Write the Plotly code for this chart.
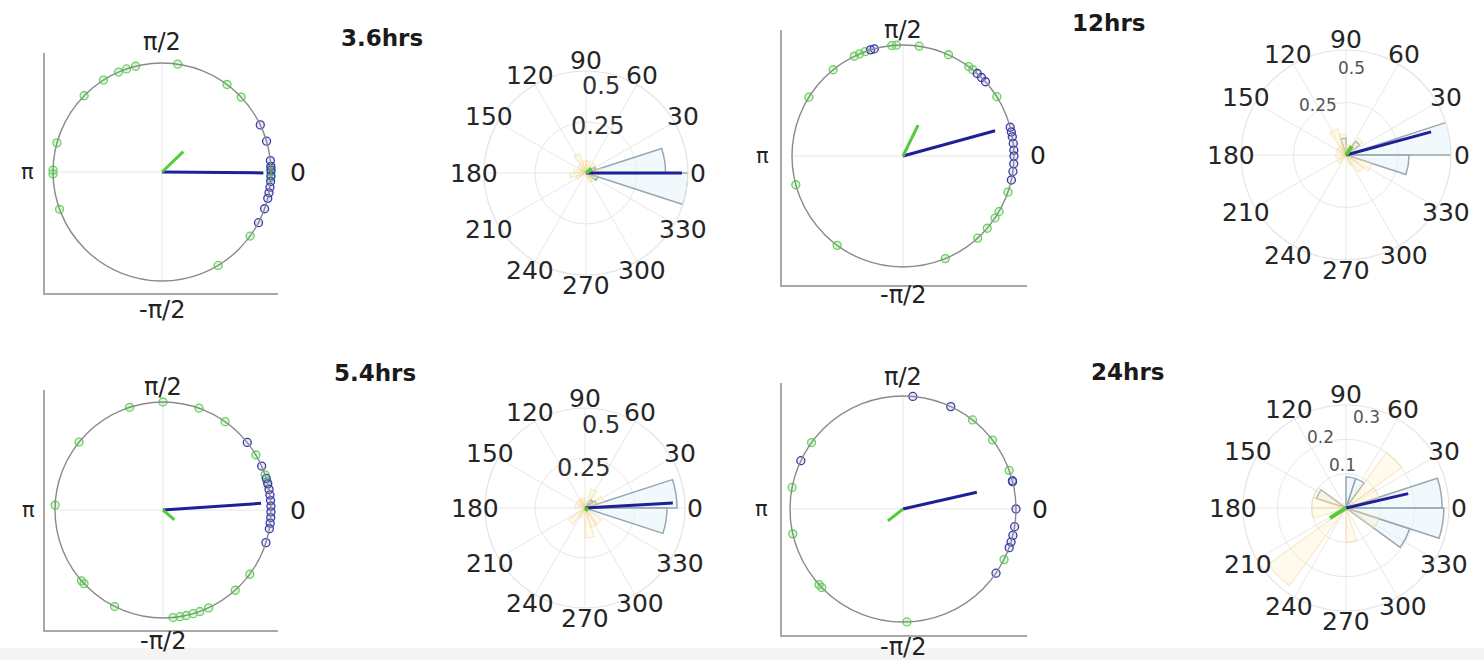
import numpy as np
import plotly.graph_objects as go

W, H = 1484, 660

# ---------------- data ----------------
titles = ["3.6hrs", "12hrs", "5.4hrs", "24hrs"]

# phase angles (degrees) of points on the unit circle
blue_36 = [25.6, 16.4, 6, 3, 1, -2, -5, -8, -11, -14, -19.7, -27.7]
green_36 = [81.7, 104, 109, 113.5, 122.5, 135.6, 164.5, 179, 181, 200, -36, -59,
            43.4, 53.4, 2, 0, -3]
blue_12 = [107, 105, 48, 45, 42, 15, 12.5, 10, 6.5, 3, 0, -4, -8, -12.5]
green_12 = [95.8, 93.4, 81.6, 113, 110, 116, 65.8, 53.7, 51, 32.3, 129, 148, 195,
            -19, -30, -34, -40.6, -47.7, -67.6, 233.6]
blue_54 = [38.7, 24, 17, 14, 11, 8, 5, 2, -1, -4, -7, -10, -17.6]
green_54 = [90, 108, 70.5, 54.9, 141, 177.4, 221, 223, 243.4, -84.7, -81, -77.6,
            -73.8, -70, -65, -48, -36.5, 30.6, 19, 15]
blue_24 = [85, 65, 154.7, 14, 14.5, 0, -9, -13.5, -17, -20, -34.6]
green_24 = [52, 37.6, 20, 144, 169, 192.7, 224, 222, -88, -26.6]

# mean resultant vectors (length, angle deg)
vec_blue = [(0.93, -0.5), (0.86, 15.3), (0.91, 3.9), (0.67, 12.8)]
vec_green = [(0.27, 43.6), (0.31, 64.0), (0.14, -40.6), (0.17, 218.0)]

# rose histograms: 20 bins of 18 degrees
bin_centers = list(range(9, 360, 18))
rose_blue_36 = [0.39, 0.05, 0, 0, 0, 0, 0, 0, 0, 0, 0, 0, 0, 0, 0, 0, 0, 0, 0.06, 0.50]
rose_yel_36 = [0.08, 0.02, 0.06, 0.03, 0.06, 0.06, 0.10, 0.05, 0.03, 0.06, 0.08, 0.05,
               0, 0, 0, 0, 0.05, 0.05, 0.03, 0.06]
rose_blue_12 = [0.51, 0, 0.08, 0, 0, 0.08, 0, 0, 0, 0, 0, 0, 0, 0, 0, 0, 0, 0, 0, 0.30]
rose_yel_12 = [0, 0.05, 0.10, 0.05, 0.05, 0.10, 0.13, 0.05, 0.05, 0, 0.05, 0, 0.05,
               0, 0, 0, 0.05, 0.10, 0.13, 0]
rose_blue_54 = [0.46, 0.06, 0.05, 0, 0, 0, 0, 0, 0, 0, 0, 0, 0, 0, 0, 0, 0, 0, 0, 0.41]
rose_yel_54 = [0.05, 0.10, 0, 0.10, 0, 0.05, 0.05, 0.05, 0, 0.05, 0, 0, 0.10, 0.05,
               0, 0.15, 0.10, 0.10, 0, 0]
rose_blue_24 = [0.28, 0, 0, 0.09, 0.09, 0, 0, 0, 0.09, 0, 0, 0, 0, 0, 0, 0, 0, 0,
                0.195, 0.285]
rose_yel_24 = [0, 0.10, 0.20, 0, 0, 0, 0, 0, 0.10, 0.10, 0.10, 0, 0.28, 0, 0, 0.10,
               0, 0, 0.10, 0]

rose_vec_blue = [(0.47, 0.0), (0.42, 15.2), (0.44, 3.2), (0.186, 13.0)]
rose_vec_green = [(0.035, 37.0), (0.05, 56.0), (0.02, -40.0), (0.055, 212.0)]

rmax_list = [0.5, 0.5, 0.5, 0.3]
rticks_list = [[0.25, 0.5], [0.25, 0.5], [0.25, 0.5], [0.1, 0.2, 0.3]]
rtick_text = [["0.25", "0.5"], ["0.25", "0.5"], ["0.25", "0.5"], ["0.1", "0.2", "0.3"]]
angle_ticks = list(range(0, 360, 30))

# ---------------- layout geometry (pixels) ----------------
left_geo = [
    dict(box=(45, 53, 278, 293), c=(162, 172), r=109, lab=(1.19, -1.27, -1.23, 1.25)),
    dict(box=(782, 30, 1027, 285), c=(903, 156), r=111, lab=(1.135, -1.25, -1.27, 1.22)),
    dict(box=(45, 390, 278, 630), c=(163, 510), r=108, lab=(1.14, -1.21, -1.25, 1.25)),
    dict(box=(782, 383, 1027, 635), c=(903, 509), r=113, lab=(1.17, -1.22, -1.25, 1.21)),
]
polar_geo = [
    dict(c=(586, 173), R=102, rlab=[(11, -47), (15, -87)], rfs=24),
    dict(c=(1346, 155), R=105, rlab=[(-28, -50), (5, -87)], rfs=17),
    dict(c=(585, 508), R=100, rlab=[(-2, -40), (16, -83)], rfs=24),
    dict(c=(1346, 508), R=103, rlab=[(-4, -43), (-26, -71), (20, -91)], rfs=17),
]
title_pos = [(382, 38), (1108, 23), (375, 373), (1127, 372)]

blues = [blue_36, blue_12, blue_54, blue_24]
greens = [green_36, green_12, green_54, green_24]
rose_blues = [rose_blue_36, rose_blue_12, rose_blue_54, rose_blue_24]
rose_yels = [rose_yel_36, rose_yel_12, rose_yel_54, rose_yel_24]

FONT = "DejaVu Sans"
BLUE_MK = "#3a3ab0"
GREEN_MK = "#62d65c"
BLUE_VEC = "#1f1f96"
GREEN_VEC = "#52cc3c"


def px(x):
    return x / W


def py(y):
    return 1 - y / H


fig = go.Figure()
layout = dict(width=W, height=H, margin=dict(l=0, r=0, t=0, b=0),
              paper_bgcolor="white", plot_bgcolor="white", showlegend=False)
annotations = []
shapes = [dict(type="rect", xref="paper", yref="paper", x0=0, x1=1, y0=0,
               y1=12 / H, fillcolor="#f4f4f4", line=dict(width=0), layer="below")]

# ---------------- left circular scatter panels ----------------
for i in range(4):
    n = i + 1
    xa = "x" if n == 1 else f"x{n}"
    ya = "y" if n == 1 else f"y{n}"
    g = left_geo[i]
    L, T, R_, B = g["box"]
    cx, cy = g["c"]
    r = g["r"]
    xr = [(L - cx) / r, (R_ - cx) / r]
    yr = [-(B - cy) / r, (cy - T) / r]
    layout["xaxis" if n == 1 else f"xaxis{n}"] = dict(
        domain=[px(L), px(R_)], range=xr, anchor=ya, showline=True,
        linecolor="#a8a8a8", linewidth=2, showgrid=False, zeroline=False,
        showticklabels=False, ticks="", fixedrange=True)
    layout["yaxis" if n == 1 else f"yaxis{n}"] = dict(
        domain=[py(B), py(T)], range=yr, anchor=xa, showline=True,
        linecolor="#a8a8a8", linewidth=2, showgrid=False, zeroline=False,
        showticklabels=False, ticks="", fixedrange=True)

    # cross gridlines
    fig.add_trace(go.Scatter(x=[-1, 1], y=[0, 0], mode="lines", xaxis=xa, yaxis=ya,
                             line=dict(color="#e6e6e6", width=1), hoverinfo="skip"))
    fig.add_trace(go.Scatter(x=[0, 0], y=[-1, 1], mode="lines", xaxis=xa, yaxis=ya,
                             line=dict(color="#e6e6e6", width=1), hoverinfo="skip"))
    shapes.append(dict(type="circle", xref=xa, yref=ya, x0=-1, y0=-1, x1=1, y1=1,
                       line=dict(color="#8a8a8a", width=1.4), layer="above"))

    gr = np.deg2rad(np.array(greens[i], dtype=float))
    br = np.deg2rad(np.array(blues[i], dtype=float))
    fig.add_trace(go.Scatter(x=np.cos(gr), y=np.sin(gr), mode="markers", xaxis=xa,
                             yaxis=ya, marker=dict(symbol="circle", size=8,
                                                   color="rgba(110,220,100,0.25)",
                                                   line=dict(color=GREEN_MK, width=1.3))))
    fig.add_trace(go.Scatter(x=np.cos(br), y=np.sin(br), mode="markers", xaxis=xa,
                             yaxis=ya, marker=dict(symbol="circle", size=8,
                                                   color="rgba(58,58,176,0.10)",
                                                   line=dict(color=BLUE_MK, width=1.3))))
    lb, ab = vec_blue[i]
    lg, ag = vec_green[i]
    fig.add_trace(go.Scatter(x=[0, lb * np.cos(np.deg2rad(ab))],
                             y=[0, lb * np.sin(np.deg2rad(ab))], mode="lines",
                             xaxis=xa, yaxis=ya, line=dict(color=BLUE_VEC, width=3)))
    fig.add_trace(go.Scatter(x=[0, lg * np.cos(np.deg2rad(ag))],
                             y=[0, lg * np.sin(np.deg2rad(ag))], mode="lines",
                             xaxis=xa, yaxis=ya, line=dict(color=GREEN_VEC, width=3)))

    top, bot, left, right = g["lab"]
    for text, ux, uy, fs in [("π/2", 0, top, 24), ("-π/2", 0, bot, 24),
                             ("π", left, 0, 21), ("0", right, 0, 25)]:
        annotations.append(dict(text=text, x=px(cx + ux * r), y=py(cy - uy * r),
                                xref="paper", yref="paper",
                                showarrow=False, xanchor="center", yanchor="middle",
                                font=dict(family=FONT, size=fs, color="#222222")))

# ---------------- rose (polar) panels ----------------
for i in range(4):
    n = i + 1
    pk = "polar" if n == 1 else f"polar{n}"
    g = polar_geo[i]
    cx, cy = g["c"]
    R = g["R"]
    layout[pk] = dict(
        domain=dict(x=[px(cx - R), px(cx + R)], y=[py(cy + R), py(cy - R)]),
        bgcolor="white", bargap=0, barmode="overlay",
        angularaxis=dict(tickvals=angle_ticks, showticklabels=False, ticks="",
                         gridcolor="#e8e8e8", gridwidth=1.2, showline=True,
                         linecolor="#e4e4e4", linewidth=1.2,
                         direction="counterclockwise", rotation=0),
        radialaxis=dict(range=[0, rmax_list[i]], tickvals=rticks_list[i],
                        showticklabels=False, ticks="", gridcolor="#e8e8e8",
                        gridwidth=1.2, showline=False))
    fig.add_trace(go.Barpolar(r=rose_blues[i], theta=bin_centers, width=[18] * 20,
                              subplot=pk,
                              marker=dict(color="rgba(230,243,251,0.5)",
                                          line=dict(color="#96a9b3", width=1.5))))
    fig.add_trace(go.Barpolar(r=rose_yels[i], theta=bin_centers, width=[18] * 20,
                              subplot=pk,
                              marker=dict(color="rgba(253,240,200,0.30)",
                                          line=dict(color="rgba(242,210,130,0.45)",
                                                    width=1.2))))
    lb, ab = rose_vec_blue[i]
    lg, ag = rose_vec_green[i]
    fig.add_trace(go.Scatterpolar(r=[0, lb], theta=[0, ab], mode="lines", subplot=pk,
                                  line=dict(color=BLUE_VEC, width=3)))
    fig.add_trace(go.Scatterpolar(r=[0, lg], theta=[0, ag], mode="lines", subplot=pk,
                                  line=dict(color=GREEN_VEC, width=4)))

    # angular labels at 1.1 R (centered, MATLAB style)
    for a in angle_ticks:
        ar = np.deg2rad(a)
        annotations.append(dict(text=str(a), x=px(cx + 1.1 * R * np.cos(ar)),
                                y=py(cy - 1.1 * R * np.sin(ar)), xref="paper",
                                yref="paper", showarrow=False, xanchor="center",
                                yanchor="middle",
                                font=dict(family=FONT, size=25, color="#262626")))
    for txt, (dx, dy) in zip(rtick_text[i], g["rlab"]):
        annotations.append(dict(text=txt, x=px(cx + dx), y=py(cy + dy), xref="paper",
                                yref="paper", showarrow=False, xanchor="center",
                                yanchor="middle",
                                font=dict(family=FONT, size=g["rfs"],
                                          color="#333333" if g["rfs"] > 20 else "#555555")))

# ---------------- titles ----------------
for t, (tx, ty) in zip(titles, title_pos):
    annotations.append(dict(text=f"<b>{t}</b>", x=px(tx), y=py(ty), xref="paper",
                            yref="paper", showarrow=False, xanchor="center",
                            yanchor="middle",
                            font=dict(family=FONT, size=23, color="#1a1a1a")))

layout["annotations"] = annotations
layout["shapes"] = shapes
fig.update_layout(**layout)
fig.write_html("out.html",
               config={"displayModeBar": False},
               post_script="document.body.style.margin='0px';"
                           "document.body.style.padding='0px';"
                           "document.body.style.overflow='hidden';")
